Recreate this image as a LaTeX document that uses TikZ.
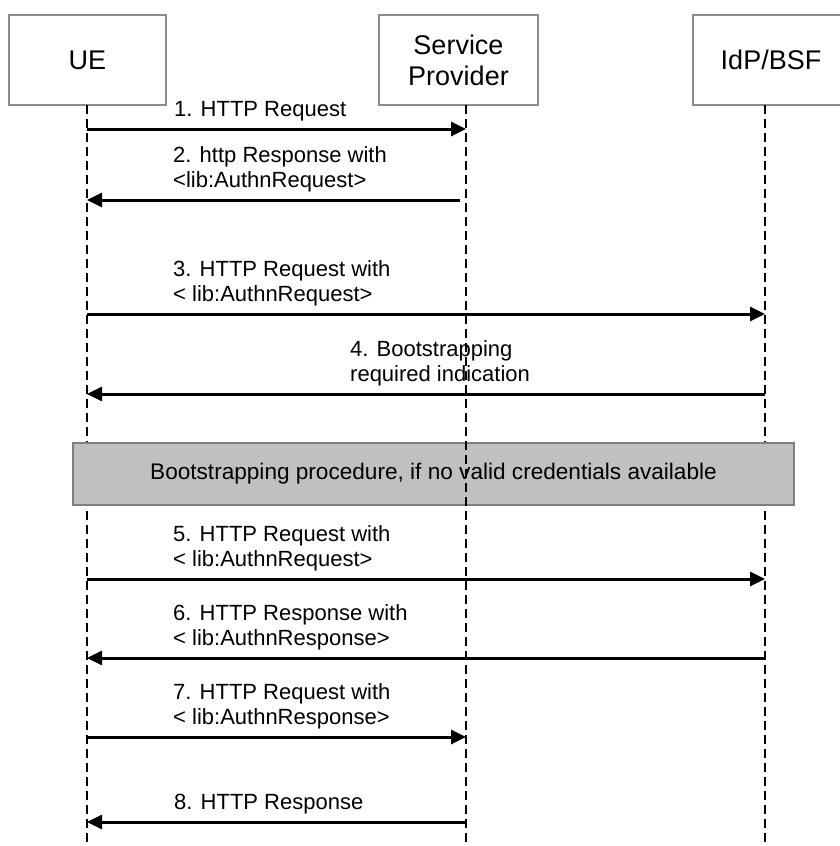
\documentclass[tikz,border=0pt]{standalone}
\usepackage{fontspec}
\setmainfont{Liberation Sans}
\usetikzlibrary{arrows.meta}

\begin{document}
\begin{tikzpicture}[x=1pt,y=-1pt,
		entity/.style={draw=black!45,line width=1.5pt,fill=white,minimum height=90pt,align=center,font=\fontsize{27}{31}\selectfont},
		lifeline/.style={line width=2.8pt,dash pattern=on 9pt off 5pt},
		msg/.style={line width=3pt,-{Triangle[length=15pt,width=14pt]}},
		msglabel/.style={anchor=south west,inner sep=0pt,align=left,font=\fontsize{22}{25}\selectfont},
		procbox/.style={draw=black!50,line width=1.5pt,fill={rgb,255:red,192;green,192;blue,192},font=\fontsize{22.6}{25}\selectfont}]
		\useasboundingbox (0,0) rectangle (840,846);
		\clip (0,0) rectangle (840,846);
		% entities
		\node[entity,minimum width=157pt] (ue) at (87.5,60) {UE};
		\node[entity,minimum width=159pt] (sp) at (458.5,60) {Service\\Provider};
		\node[entity,minimum width=156pt] (idp) at (771,60) {IdP/BSF};
		\coordinate (uel) at (87,105);
		\coordinate (spl) at (466,105);
		\coordinate (idpl) at (765,105);
		% lifelines
		\draw[lifeline] (uel) -- (uel |- 0,846);
		\draw[lifeline] (idpl) -- (idpl |- 0,846);
		% bootstrapping
		\node[procbox,minimum width=721pt,minimum height=62pt] (boot) at (433.5,474) {Bootstrapping procedure, if no valid credentials available};
		\draw[lifeline] (spl) -- (spl |- 0,846);
		% messages
		\draw[msg] (uel |- 0,129) -- (spl |- 0,129);
		\node[msglabel] (m1) at (174,121) {1. HTTP Request};
		\draw[msg] (460,200) coordinate (m2s) -- (uel |- m2s);
		\node[msglabel] (m2) at (173,192) {2. http Response with\\<lib:AuthnRequest>};
		\draw[msg] (uel |- 0,314) -- (idpl |- 0,314);
		\node[msglabel] (m3) at (173,306) {3. HTTP Request with\\< lib:AuthnRequest>};
		\draw[msg] (idpl |- 0,394) -- (uel |- 0,394);
		\node[msglabel] (m4) at (350,386) {4. Bootstrapping\\required indication};
		\draw[msg] (uel |- 0,579) -- (idpl |- 0,579);
		\node[msglabel] (m5) at (173,571) {5. HTTP Request with\\< lib:AuthnRequest>};
		\draw[msg] (idpl |- 0,658) -- (uel |- 0,658);
		\node[msglabel] (m6) at (173,650) {6. HTTP Response with\\< lib:AuthnResponse>};
		\draw[msg] (uel |- 0,737) -- (spl |- 0,737);
		\node[msglabel] (m7) at (173,729) {7. HTTP Request with\\< lib:AuthnResponse>};
		\draw[msg] (spl |- 0,822) -- (uel |- 0,822);
		\node[msglabel] (m8) at (174,814) {8. HTTP Response};
	\end{tikzpicture}
\end{document}
